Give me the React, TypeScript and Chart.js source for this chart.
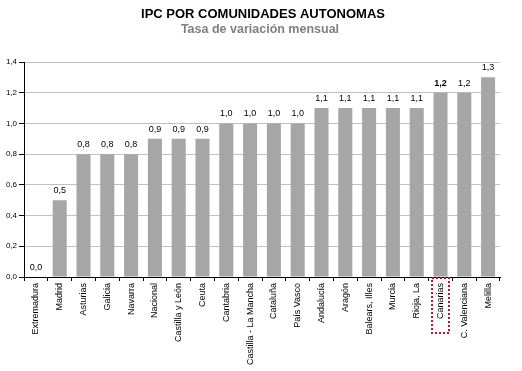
import React, { useEffect, useRef } from "react";
import { Chart, registerables } from "chart.js";

Chart.register(...registerables);

const categories = [
  "Extremadura", "Madrid", "Asturias", "Galicia", "Navarra", "Nacional",
  "Castilla y León", "Ceuta", "Cantabria", "Castilla - La Mancha", "Cataluña",
  "País Vasco", "Andalucía", "Aragón", "Balears, Illes", "Murcia", "Rioja, La",
  "Canarias", "C. Valenciana", "Melilla",
];
const values = [0.0, 0.5, 0.8, 0.8, 0.8, 0.9, 0.9, 0.9, 1.0, 1.0, 1.0, 1.0, 1.1, 1.1, 1.1, 1.1, 1.1, 1.2, 1.2, 1.3];
const highlighted = "Canarias";
const title = "IPC POR COMUNIDADES AUTONOMAS";
const subtitle = "Tasa de variación mensual";
const yMin = 0;
const yMax = 1.4;
const yStep = 0.2;

const FONT = "'Liberation Sans', Arial, sans-serif";
const fmt = (v: number) => v.toFixed(1).replace(".", ",");

const overlay = {
  id: "overlay",
  afterDraw(chart: any) {
    const ctx = chart.ctx;
    const xs = chart.scales.x;
    const ys = chart.scales.y;
    ctx.save();
    // titles
    ctx.textAlign = "center";
    ctx.textBaseline = "alphabetic";
    ctx.fillStyle = "#000";
    ctx.font = `bold 13px ${FONT}`;
    ctx.fillText(title, 263, 18);
    ctx.fillStyle = "#808080";
    ctx.font = `bold 12.5px ${FONT}`;
    ctx.fillText(subtitle, 260, 33);
    // data labels
    const meta = chart.getDatasetMeta(0);
    meta.data.forEach((bar: any, i: number) => {
      const bold = categories[i] === highlighted;
      ctx.font = `${bold ? "bold " : ""}9px ${FONT}`;
      ctx.fillStyle = "#000";
      ctx.textAlign = "center";
      ctx.textBaseline = "alphabetic";
      ctx.fillText(fmt(values[i]), bar.x, bar.y - 7);
    });
    // highlight box around label
    const hi = categories.indexOf(highlighted);
    if (hi >= 0) {
      const cx = xs.getPixelForValue(hi);
      ctx.strokeStyle = "#C8102E";
      ctx.lineWidth = 2;
      ctx.setLineDash([2, 2]);
      ctx.strokeRect(cx - 8.5, ys.bottom + 1, 17, 55);
    }
    ctx.restore();
  },
};

export default function App() {
  const ref = useRef<HTMLCanvasElement>(null);
  useEffect(() => {
    if (!ref.current) return;
    const chart = new Chart(ref.current, {
      type: "bar",
      data: {
        labels: categories,
        datasets: [
          {
            data: values,
            backgroundColor: "#A6A6A6",
            borderWidth: 0,
            categoryPercentage: 1,
            barPercentage: 0.59,
          },
        ],
      },
      options: {
        responsive: false,
        animation: false,
        layout: { padding: { top: 62, right: 22, left: 0, bottom: 0 } },
        plugins: {
          legend: { display: false },
          tooltip: { enabled: false },
          title: { display: false },
        },
        scales: {
          x: {
            offset: true,
            grid: {
              offset: true,
              drawOnChartArea: false,
              drawTicks: true,
              tickLength: 4,
              tickColor: "#000",
              color: "#000",
            },
            border: { color: "#000", width: 1 },
            ticks: {
              autoSkip: false,
              minRotation: 90,
              maxRotation: 90,
              padding: 2,
              color: "#000",
              font: { family: FONT, size: 9 },
            },
            afterFit(scale: any) {
              scale.height = 94;
            },
          },
          y: {
            min: yMin,
            max: yMax,
            grid: {
              color: "#C0C0C0",
              tickColor: "#000",
              tickLength: 5,
              drawTicks: true,
            },
            border: { color: "#000", width: 1 },
            ticks: {
              stepSize: yStep,
              padding: 2,
              color: "#000",
              font: { family: FONT, size: 8 },
              callback: (v: any) => fmt(Number(v)),
            },
            afterFit(scale: any) {
              scale.width = 24;
            },
          },
        },
      },
      plugins: [overlay],
    });
    return () => chart.destroy();
  }, []);
  return (
    <div style={{ position: "fixed", left: 0, top: 0, width: 522, height: 371, background: "#fff" }}>
      <canvas ref={ref} width={522} height={371} />
    </div>
  );
}
